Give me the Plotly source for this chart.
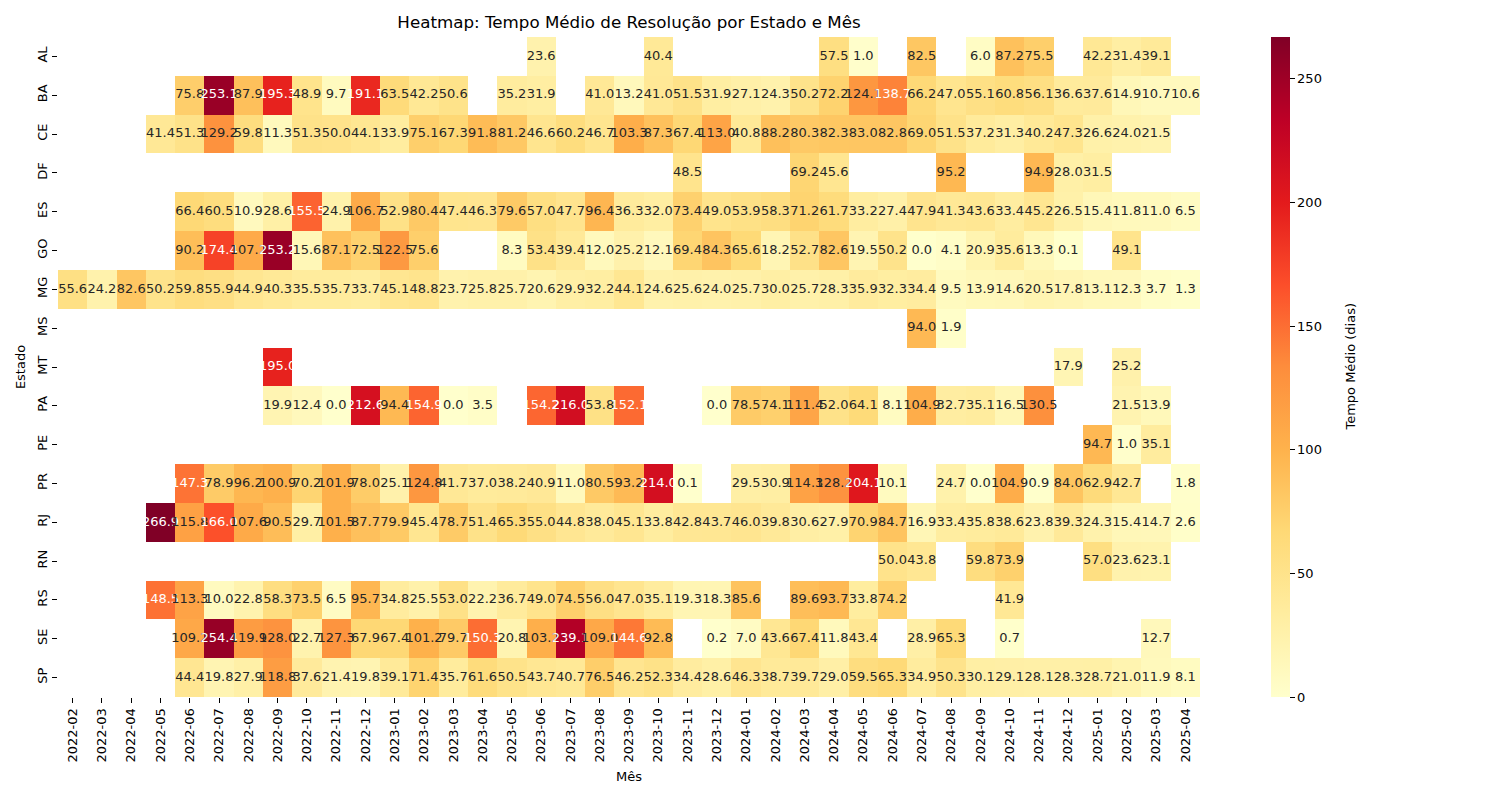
import plotly.graph_objects as go

N = None

months = [
    "2022-02", "2022-03", "2022-04", "2022-05", "2022-06", "2022-07", "2022-08",
    "2022-09", "2022-10", "2022-11", "2022-12", "2023-01", "2023-02", "2023-03",
    "2023-04", "2023-05", "2023-06", "2023-07", "2023-08", "2023-09", "2023-10",
    "2023-11", "2023-12", "2024-01", "2024-02", "2024-03", "2024-04", "2024-05",
    "2024-06", "2024-07", "2024-08", "2024-09", "2024-10", "2024-11", "2024-12",
    "2025-01", "2025-02", "2025-03", "2025-04",
]

states = ["AL", "BA", "CE", "DF", "ES", "GO", "MG", "MS", "MT",
          "PA", "PE", "PR", "RJ", "RN", "RS", "SE", "SP"]

# average resolution time (days) per state, one value per month (None = no data)
al = [N, N, N, N, N, N, N, N, N, N, N, N, N, N, N, N, 23.6, N, N, N,
      40.4, N, N, N, N, N, 57.5, 1.0, N, 82.5, N, 6.0, 87.2, 75.5, N, 42.2, 31.4, 39.1, N]
ba = [N, N, N, N, 75.8, 253.1, 87.9, 195.3, 48.9, 9.7, 191.1, 63.5, 42.2, 50.6, N, 35.2,
      31.9, N, 41.0, 13.2, 41.0, 51.5, 31.9, 27.1, 24.3, 50.2, 72.2, 124.1, 138.7, 66.2,
      47.0, 55.1, 60.8, 56.1, 36.6, 37.6, 14.9, 10.7, 10.6]
ce = [N, N, N, 41.4, 51.3, 129.2, 59.8, 11.3, 51.3, 50.0, 44.1, 33.9, 75.1, 67.3, 91.8,
      81.2, 46.6, 60.2, 46.7, 103.3, 87.3, 67.4, 113.0, 40.8, 88.2, 80.3, 82.3, 83.0, 82.8,
      69.0, 51.5, 37.2, 31.3, 40.2, 47.3, 26.6, 24.0, 21.5, N]
df_ = [N, N, N, N, N, N, N, N, N, N, N, N, N, N, N, N, N, N, N, N, N, 48.5, N, N, N,
       69.2, 45.6, N, N, N, 95.2, N, N, 94.9, 28.0, 31.5, N, N, N]
es = [N, N, N, N, 66.4, 60.5, 10.9, 28.6, 155.5, 24.9, 106.7, 52.9, 80.4, 47.4, 46.3,
      79.6, 57.0, 47.7, 96.4, 36.3, 32.0, 73.4, 49.0, 53.9, 58.3, 71.2, 61.7, 33.2, 27.4,
      47.9, 41.3, 43.6, 33.4, 45.2, 26.5, 15.4, 11.8, 11.0, 6.5]
go_ = [N, N, N, N, 90.2, 174.4, 107.2, 253.2, 15.6, 87.1, 72.5, 122.5, 75.6, N, N, 8.3,
       53.4, 39.4, 12.0, 25.2, 12.1, 69.4, 84.3, 65.6, 18.2, 52.7, 82.6, 19.5, 50.2, 0.0,
       4.1, 20.9, 35.6, 13.3, 0.1, N, 49.1, N, N]
mg = [55.6, 24.2, 82.6, 50.2, 59.8, 55.9, 44.9, 40.3, 35.5, 35.7, 33.7, 45.1, 48.8, 23.7,
      25.8, 25.7, 20.6, 29.9, 32.2, 44.1, 24.6, 25.6, 24.0, 25.7, 30.0, 25.7, 28.3, 35.9,
      32.3, 34.4, 9.5, 13.9, 14.6, 20.5, 17.8, 13.1, 12.3, 3.7, 1.3]
ms = [N, N, N, N, N, N, N, N, N, N, N, N, N, N, N, N, N, N, N, N, N, N, N, N, N, N, N,
      N, N, 94.0, 1.9, N, N, N, N, N, N, N, N]
mt = [N, N, N, N, N, N, N, 195.0, N, N, N, N, N, N, N, N, N, N, N, N, N, N, N, N, N, N,
      N, N, N, N, N, N, N, N, 17.9, N, 25.2, N, N]
pa = [N, N, N, N, N, N, N, 19.9, 12.4, 0.0, 212.6, 94.4, 154.9, 0.0, 3.5, N, 154.2, 216.0,
      53.8, 152.1, N, N, 0.0, 78.5, 74.1, 111.4, 52.0, 64.1, 8.1, 104.9, 32.7, 35.1, 16.5,
      130.5, N, N, 21.5, 13.9, N]
pe = [N, N, N, N, N, N, N, N, N, N, N, N, N, N, N, N, N, N, N, N, N, N, N, N, N, N, N,
      N, N, N, N, N, N, N, N, 94.7, 1.0, 35.1, N]
pr = [N, N, N, N, 147.3, 78.9, 96.2, 100.9, 70.2, 101.9, 78.0, 25.1, 124.8, 41.7, 37.0,
      38.2, 40.9, 11.0, 80.5, 93.2, 214.0, 0.1, N, 29.5, 30.9, 114.3, 128.2, 204.1, 10.1,
      N, 24.7, 0.0, 104.9, 0.9, 84.0, 62.9, 42.7, N, 1.8]
rj = [N, N, N, 266.9, 115.8, 166.0, 107.6, 90.5, 29.7, 101.5, 87.7, 79.9, 45.4, 78.7,
      51.4, 65.3, 55.0, 44.8, 38.0, 45.1, 33.8, 42.8, 43.7, 46.0, 39.8, 30.6, 27.9, 70.9,
      84.7, 16.9, 33.4, 35.8, 38.6, 23.8, 39.3, 24.3, 15.4, 14.7, 2.6]
rn = [N, N, N, N, N, N, N, N, N, N, N, N, N, N, N, N, N, N, N, N, N, N, N, N, N, N, N,
      N, 50.0, 43.8, N, 59.8, 73.9, N, N, 57.0, 23.6, 23.1, N]
rs = [N, N, N, 148.5, 113.3, 10.0, 22.8, 58.3, 73.5, 6.5, 95.7, 34.8, 25.5, 53.0, 22.2,
      36.7, 49.0, 74.5, 56.0, 47.0, 35.1, 19.3, 18.3, 85.6, N, 89.6, 93.7, 33.8, 74.2,
      N, N, N, 41.9, N, N, N, N, N, N]
se = [N, N, N, N, 109.2, 254.4, 119.9, 128.0, 22.7, 127.3, 67.9, 67.4, 101.2, 79.7, 150.3,
      20.8, 103.2, 239.1, 109.0, 144.6, 92.8, N, 0.2, 7.0, 43.6, 67.4, 11.8, 43.4, N,
      28.9, 65.3, N, 0.7, N, N, N, N, 12.7, N]
sp = [N, N, N, N, 44.4, 19.8, 27.9, 118.8, 37.6, 21.4, 19.8, 39.1, 71.4, 35.7, 61.6,
      50.5, 43.7, 40.7, 76.5, 46.2, 52.3, 34.4, 28.6, 46.3, 38.7, 39.7, 29.0, 59.5, 65.3,
      34.9, 50.3, 30.1, 29.1, 28.1, 28.3, 28.7, 21.0, 11.9, 8.1]

z = [al, ba, ce, df_, es, go_, mg, ms, mt, pa, pe, pr, rj, rn, rs, se, sp]
for row in z:
    assert len(row) == len(months)

# YlOrRd (colorbrewer 9 colours, as in matplotlib)
ylorrd = ["#ffffcc", "#ffeda0", "#fed976", "#feb24c", "#fd8d3c",
          "#fc4e2a", "#e31a1c", "#bd0026", "#800026"]
colorscale = [[i / 8, c] for i, c in enumerate(ylorrd)]

zmax = max(v for row in z for v in row if v is not None)


def cell_rgb(v):
    t = v / zmax * 8
    i = min(int(t), 7)
    f = t - i
    a = [int(ylorrd[i][k:k + 2], 16) for k in (1, 3, 5)]
    b = [int(ylorrd[i + 1][k:k + 2], 16) for k in (1, 3, 5)]
    return [(a[j] + (b[j] - a[j]) * f) / 255 for j in range(3)]


def text_color(v):
    # same rule seaborn uses: dark text on light cells, white on dark ones
    lin = [c / 12.92 if c <= 0.03928 else ((c + 0.055) / 1.055) ** 2.4 for c in cell_rgb(v)]
    lum = 0.2126 * lin[0] + 0.7152 * lin[1] + 0.0722 * lin[2]
    return "#262626" if lum > 0.408 else "white"


tx, ty, tt, tc = [], [], [], []
for s, row in zip(states, z):
    for m, v in zip(months, row):
        if v is None:
            continue
        tx.append(m)
        ty.append(s)
        tt.append(f"{v:.1f}")
        tc.append(text_color(v))

font = "DejaVu Sans"

fig = go.Figure()
fig.add_trace(go.Heatmap(
    z=z, x=months, y=states,
    colorscale=colorscale, zmin=0, zmax=zmax,
    hoverongaps=False,
    colorbar=dict(
        x=1.0622, xanchor="left", xpad=0,
        y=0.5, yanchor="middle", ypad=0,
        len=1, lenmode="fraction", thickness=19,
        outlinewidth=0,
        ticks="outside", ticklen=5, tickcolor="black",
        tickvals=[0, 50, 100, 150, 200, 250],
        tickfont=dict(size=13, family=font, color="black"),
    ),
))
fig.add_trace(go.Scatter(
    x=tx, y=ty, text=tt, mode="text",
    textfont=dict(size=13, family=font, color=tc),
    hoverinfo="skip", showlegend=False,
))

# the page puts the figure 8px in from the top-left corner, so margins are trimmed by 8
fig.update_layout(
    width=1500, height=800,
    margin=dict(l=50, r=308, t=29, b=111),
    paper_bgcolor="white", plot_bgcolor="white",
    font=dict(family=font, color="black"),
    title=dict(
        text="Heatmap: Tempo Médio de Resolução por Estado e Mês",
        x=0.5, xref="paper", xanchor="center",
        y=0.9825, yanchor="middle",
        font=dict(size=16.7, family=font, color="black"),
    ),
    annotations=[dict(
        text="Tempo Médio (dias)", textangle=-90,
        x=1.131, y=0.5, xref="paper", yref="paper",
        xanchor="center", yanchor="middle", showarrow=False,
        font=dict(size=13, family=font, color="black"),
    )],
)
fig.update_xaxes(
    type="category", categoryorder="array", categoryarray=months,
    range=[-0.5, len(months) - 0.5],
    title=dict(text="Mês", font=dict(size=13), standoff=10),
    tickangle=-90, tickfont=dict(size=13),
    ticks="outside", ticklen=5, tickcolor="black",
    showgrid=False, zeroline=False, showline=False,
)
fig.update_yaxes(
    type="category", categoryorder="array", categoryarray=states,
    range=[len(states) - 0.5, -0.5],
    title=dict(text="Estado", font=dict(size=13), standoff=6),
    tickangle=-90, tickfont=dict(size=13),
    ticks="outside", ticklen=5, tickcolor="black",
    showgrid=False, zeroline=False, showline=False,
)

fig.write_html("out.html")
